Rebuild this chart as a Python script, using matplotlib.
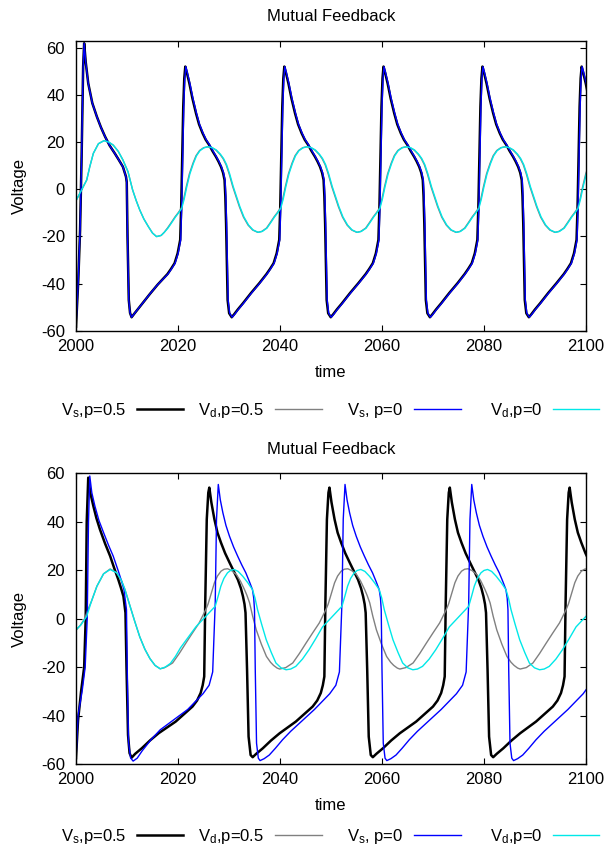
import matplotlib
matplotlib.use("Agg")
import matplotlib.pyplot as plt
from matplotlib.lines import Line2D

plt.rcParams['font.family'] = ['Liberation Sans', 'DejaVu Sans']
plt.rcParams['font.size'] = 12
plt.rcParams['mathtext.default'] = 'regular'
plt.rcParams['axes.unicode_minus'] = False

# ============================================================
# DATA
# each trace = initial transient + one cycle shape placed at each spike time
# ============================================================

# ---- top panel ----
top_spk_p05 = [2021.43, 2040.85, 2060.3, 2079.7, 2099.15]
top_spk_p0 = [2021.53, 2040.95, 2060.4, 2079.8, 2099.25]

top_vs_t0 = [2000.0, 2000.45, 2000.8, 2001.1, 2001.4, 2001.6, 2001.9, 2002.4, 2003.2, 2004.1,
             2004.9, 2005.7, 2006.6, 2007.6, 2008.4, 2009.2, 2009.8, 2009.95, 2010.1, 2010.35,
             2010.6, 2010.9, 2011.5, 2013.0, 2014.5, 2016.0]
top_vs_v0 = [-58.3, -38.5, -17.3, 13.8, 52.0, 61.9, 54.0, 44.9, 36.5, 30.7,
             26.2, 22.3, 18.5, 15.2, 12.4, 9.5, 5.3, 3.0, -20.0, -47.0,
             -52.5, -54.3, -52.6, -48.5, -44.4, -40.5]
top_vs_dt = [-3.5, -2.8, -2.1, -1.5, -1.0, -0.8, -0.6, -0.4, -0.2, 0.0, 0.3, 0.8, 1.4, 2.1, 2.7,
             3.4, 4.0, 4.7, 5.3, 6.0, 6.5, 7.0, 7.4, 7.7, 7.85, 8.0, 8.3, 8.6, 9.1, 9.6,
             10.3, 11.3, 12.9, 14.5]
top_vs_v = [-36.0, -33.8, -31.4, -27.2, -21.5, -7.4, 15.0, 35.0, 47.0, 52.0, 49.5, 44.9, 38.5, 32.2, 27.5,
            23.7, 21.0, 18.7, 16.3, 13.8, 11.8, 9.5, 7.0, 3.9, -3.0, -14.5, -47.0, -52.6, -54.3, -53.0,
            -51.0, -48.4, -44.0, -39.9]

top_vd_t0 = [2000.0, 2001.1, 2002.1, 2002.7, 2003.4, 2004.4, 2005.5, 2006.4, 2007.3, 2008.3,
             2009.2, 2010.2, 2010.6, 2011.1, 2011.8, 2012.5, 2013.3, 2014.2, 2015.0, 2015.8,
             2016.7, 2017.3]
top_vd_v0 = [-4.9, -0.3, 3.9, 9.5, 15.2, 19.3, 20.6, 20.0, 18.7, 16.0,
             12.4, 7.4, 4.0, -0.3, -4.8, -8.8, -12.6, -15.9, -18.6, -20.1,
             -19.6, -18.3]
top_vd_dt = [-3.5, -2.8, -2.0, -1.4, -0.8, -0.3, 0.2, 0.8, 1.5, 2.1, 2.8, 3.6, 4.4, 5.2, 6.0,
             6.8, 7.4, 8.0, 8.6, 9.3, 10.0, 10.6, 11.4, 12.3, 13.2, 14.2, 15.0]
top_vd_v = [-16.5, -14.3, -11.7, -10.0, -8.1, -4.0, 1.1, 6.5, 11.0, 14.2, 16.4, 17.6, 18.0, 17.6, 16.6,
            14.8, 13.0, 10.4, 6.5, 1.1, -3.5, -7.4, -11.8, -15.2, -17.3, -18.3, -17.9]

# ---- bottom panel ----
bot_spk_p05 = [2026.14, 2049.7, 2073.3, 2096.8]
bot_spk_p0 = [2027.9, 2052.75, 2077.6, 2102.45]

bot_vs05_t0 = [2000.0, 2000.4, 2001.0, 2001.6, 2001.9, 2002.1, 2002.4, 2002.8, 2003.4, 2004.0,
               2004.7, 2005.7, 2006.7, 2007.5, 2008.3, 2008.8, 2009.3, 2009.7, 2009.9, 2010.2,
               2010.5, 2010.9, 2011.6, 2012.9, 2014.5, 2016.2]
bot_vs05_v0 = [-57.6, -42.0, -30.0, -20.0, 0.0, 40.0, 58.2, 52.0, 46.5, 41.5,
               36.8, 31.0, 25.8, 20.8, 16.1, 12.8, 9.2, 2.4, -20.0, -48.0,
               -55.5, -57.4, -55.8, -53.5, -50.3, -47.3]
bot_vs05_dt = [-6.6, -5.0, -3.3, -2.4, -1.7, -1.3, -1.0, -0.8, -0.5, -0.2, 0.0, 0.4, 1.0, 1.6, 2.3,
               3.1, 4.0, 4.8, 5.6, 6.2, 6.6, 6.9, 7.1, 7.4, 7.7, 8.1, 8.5, 9.2, 10.5, 12.1, 13.8]
bot_vs05_v = [-42.5, -39.5, -36.3, -33.8, -30.7, -27.5, -23.9, 6.5, 41.0, 52.0, 54.1, 48.0, 41.0, 35.5, 31.3,
              27.0, 23.0, 19.6, 16.1, 12.5, 9.2, 6.0, 2.4, -21.0, -48.7, -56.3, -57.2, -55.8, -53.5, -50.3, -47.3]

bot_vd05_t0 = [2000.0, 2000.9, 2001.7, 2002.4, 2003.0, 2004.1, 2005.4, 2006.7, 2008.0, 2008.9,
               2009.6, 2010.6, 2011.5, 2012.5, 2013.5, 2014.5, 2015.5, 2016.5, 2017.3, 2018.0]
bot_vd05_v0 = [-4.8, -2.6, 0.0, 4.0, 7.0, 13.4, 18.5, 20.5, 18.9, 15.8,
               12.0, 5.1, -1.0, -7.5, -12.6, -16.5, -19.3, -20.7, -20.3, -19.5]
bot_vd05_dt = [-7.2, -5.9, -4.6, -3.3, -2.0, -0.7, -0.25, 0.4, 1.0, 1.6, 2.3, 2.9, 3.6, 4.4, 5.3,
               6.1, 6.9, 7.4, 7.9, 8.5, 9.2, 10.2, 11.2, 12.0, 12.6, 13.3, 13.8, 15.0]
bot_vd05_v = [-18.3, -14.4, -10.1, -5.9, -1.8, 3.7, 6.0, 10.5, 14.8, 17.6, 19.6, 20.4, 20.6, 19.8, 18.2,
              15.5, 12.0, 9.5, 6.5, 1.0, -4.6, -10.5, -15.6, -18.0, -19.3, -20.4, -20.8, -20.2]

bot_vs0_t0 = [2000.0, 2000.4, 2001.2, 2001.8, 2002.2, 2002.45, 2002.7, 2003.1, 2003.7, 2004.5,
              2005.5, 2006.4, 2007.3, 2008.4, 2009.0, 2009.4, 2009.9, 2010.05, 2010.3, 2010.7,
              2011.2, 2012.0, 2013.0, 2014.7, 2016.5]
bot_vs0_v0 = [-58.3, -40.0, -30.0, -20.0, 0.0, 40.0, 58.9, 52.0, 46.5, 40.5,
              35.0, 30.2, 25.8, 19.0, 15.0, 12.0, 3.7, -21.0, -51.0, -57.5,
              -58.8, -57.6, -54.5, -50.0, -45.9]
bot_vs0_dt = [-6.0, -4.4, -3.0, -1.8, -1.1, -0.6, -0.35, 0.0, 0.4, 0.9, 1.5, 2.2, 3.0, 3.8, 4.6,
              5.4, 6.1, 6.7, 6.95, 7.1, 7.25, 7.5, 7.85, 8.2, 9.0, 10.0, 11.2, 12.6, 14.2, 15.9]
bot_vs0_v = [-37.5, -34.0, -31.0, -27.5, -22.0, 6.5, 41.0, 55.4, 49.0, 43.7, 38.5, 34.0, 29.6, 25.8, 22.2,
             18.9, 15.3, 12.0, 8.5, 3.7, -21.0, -51.4, -57.6, -58.6, -57.8, -56.3, -53.5, -50.0, -46.5, -43.2]

bot_vd0_t0 = [2000.0, 2001.0, 2002.1, 2003.0, 2004.1, 2005.4, 2006.7, 2008.0, 2008.9, 2009.6,
              2010.6, 2011.5, 2012.5, 2013.5, 2014.5, 2015.5, 2016.5, 2017.5, 2018.5, 2019.5,
              2020.5]
bot_vd0_v0 = [-4.6, -2.5, 1.0, 7.0, 13.4, 18.5, 20.3, 18.9, 15.8, 12.0,
              5.1, -1.0, -7.5, -12.6, -16.5, -19.3, -20.7, -20.0, -18.5, -15.6,
              -12.0]
bot_vd0_dt = [-4.4, -3.1, -1.8, -0.6, 0.0, 0.5, 1.1, 1.8, 2.4, 3.1, 3.9, 4.8, 5.8, 6.7, 7.2,
              7.7, 8.5, 9.4, 10.4, 11.3, 12.3, 13.3, 14.2, 15.2, 16.5, 17.8, 19.1]
bot_vd0_v = [-3.4, -0.5, 2.4, 5.1, 9.5, 13.4, 16.6, 18.9, 19.9, 20.3, 19.5, 17.5, 14.8, 12.0, 8.5,
             3.7, -2.3, -8.7, -14.0, -18.3, -20.3, -21.1, -20.8, -19.7, -16.7, -12.8, -8.3]

labels = [r"V$_{s}$,p=0.5", r"V$_{d}$,p=0.5", r"V$_{s}$, p=0", r"V$_{d}$,p=0"]
colors = ["black", "#808080", "#0000ff", "#00e8e8"]
widths = [1.8, 1.0, 1.0, 1.0]


def build(t0, v0, spikes, dt, v):
    tt = list(t0)
    vv = list(v0)
    for tp in spikes:
        tt += [tp + d for d in dt]
        vv += list(v)
    return tt, vv


top_series = [
    build(top_vs_t0, top_vs_v0, top_spk_p05, top_vs_dt, top_vs_v),
    build(top_vd_t0, top_vd_v0, top_spk_p05, top_vd_dt, top_vd_v),
    build(top_vs_t0, top_vs_v0, top_spk_p0, top_vs_dt, top_vs_v),
    build(top_vd_t0, top_vd_v0, top_spk_p0, top_vd_dt, top_vd_v),
]
bot_series = [
    build(bot_vs05_t0, bot_vs05_v0, bot_spk_p05, bot_vs05_dt, bot_vs05_v),
    build(bot_vd05_t0, bot_vd05_v0, bot_spk_p05, bot_vd05_dt, bot_vd05_v),
    build(bot_vs0_t0, bot_vs0_v0, bot_spk_p0, bot_vs0_dt, bot_vs0_v),
    build(bot_vd0_t0, bot_vd0_v0, bot_spk_p0, bot_vd0_dt, bot_vd0_v),
]

# ============================================================
# PLOT
# ============================================================

fig = plt.figure(figsize=(6.09, 8.47), dpi=100)
ax_top = fig.add_axes([0.1248, 0.6096, 0.8374, 0.3424])
ax_bot = fig.add_axes([0.1248, 0.0980, 0.8374, 0.3432])

for ax, series, ylim in [(ax_top, top_series, (-60, 63)), (ax_bot, bot_series, (-60, 60))]:
    for (t, v), c, w in zip(series, colors, widths):
        ax.plot(t, v, color=c, lw=w, solid_joinstyle='round')
    ax.set_xlim(2000, 2100)
    ax.set_ylim(*ylim)
    ax.set_xticks(range(2000, 2101, 20))
    ax.set_yticks(range(-60, 61, 20))
    ax.tick_params(direction='in', top=True, right=True, length=4, width=0.8)
    ax.tick_params(axis='x', pad=6)
    ax.tick_params(axis='y', pad=8)
    for s in ax.spines.values():
        s.set_linewidth(1.0)
    ax.set_title("Mutual Feedback", fontsize=12, pad=14)
    ax.set_xlabel("time", labelpad=8)
    ax.set_ylabel("Voltage", labelpad=10)

# gnuplot-style key below each panel: text then sample line
text_right = [126, 264, 403, 542]
line_x = [(137, 183), (275, 322), (414, 461), (553, 599)]
for base_px in [415, 841]:
    yb = 1 - base_px / 847
    yl = 1 - (base_px - 6) / 847
    for lab, xr, (x0, x1), c, w in zip(labels, text_right, line_x, colors, widths):
        fig.text(xr / 609, yb, lab, ha='right', va='baseline', fontsize=12)
        fig.add_artist(Line2D([x0 / 609, x1 / 609], [yl, yl], transform=fig.transFigure,
                              color=c, lw=w))

fig.savefig("out.png", dpi=100)
